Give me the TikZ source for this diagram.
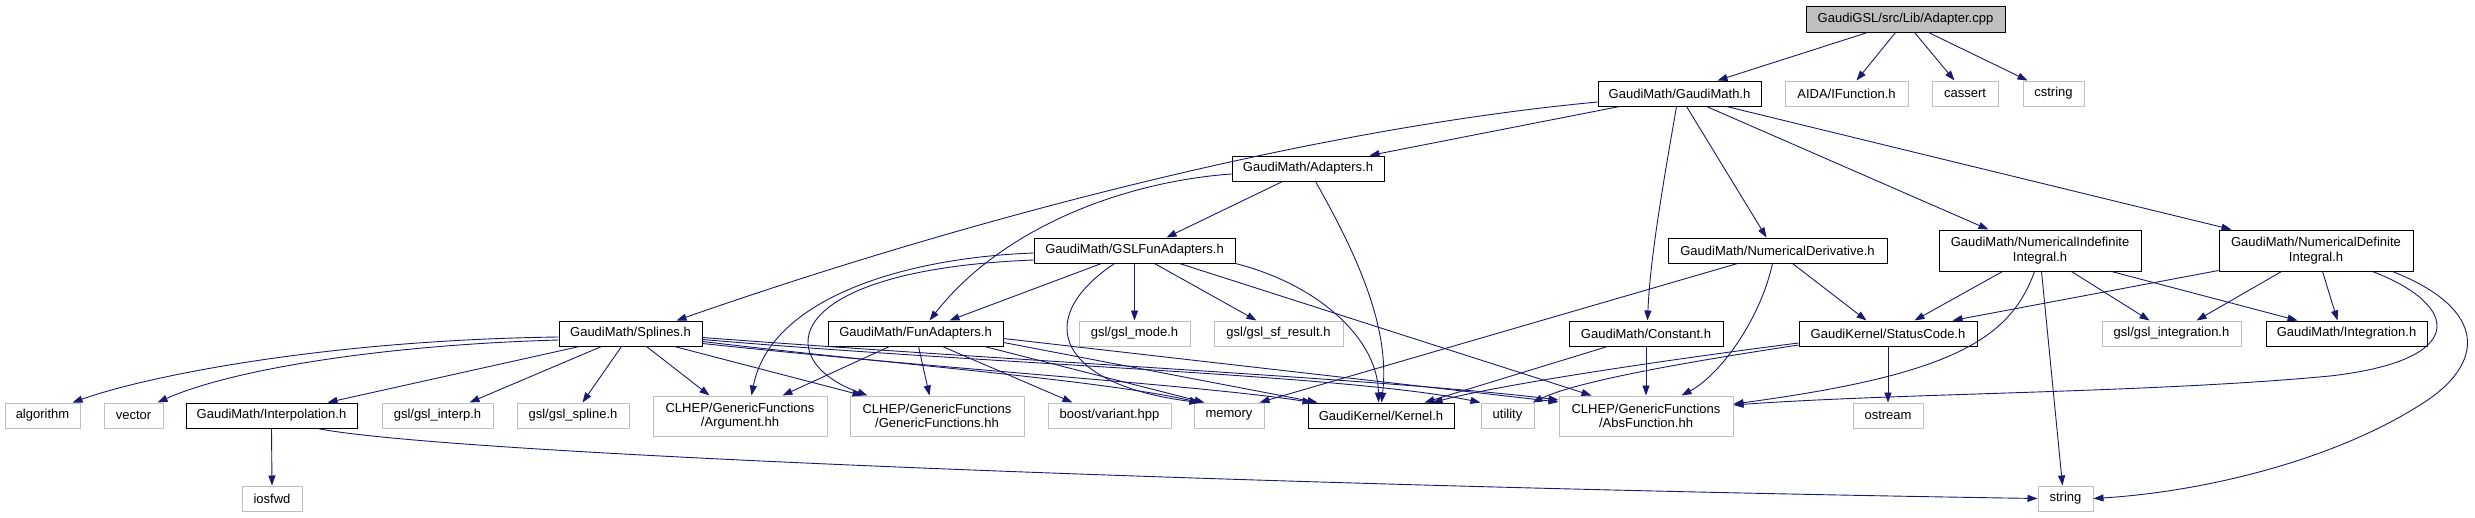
\documentclass[tikz,border=0pt]{standalone}
\usepackage{fontspec}
\setmainfont{Liberation Sans}
\usetikzlibrary{arrows.meta}
\definecolor{edgec}{HTML}{191970}
\definecolor{grayb}{HTML}{BFBFBF}
\tikzset{
  box/.style={rectangle, inner sep=0pt, font=\fontsize{13}{14.5}\selectfont, align=center, line width=1pt},
  hdr/.style={box, draw=black},
  ext/.style={box, draw=grayb},
  rootbox/.style={box, draw=black, fill=grayb},
  dep/.style={draw=edgec, line width=0.9pt, -{Triangle[length=10pt,width=7pt]}},
}
\begin{document}
\begin{tikzpicture}[x=1pt,y=-1pt]
\useasboundingbox (0,0) rectangle (2475,517);
% nodes
\node[rootbox, minimum width=199pt, minimum height=26pt] (root) at (1905.5,19) {GaudiGSL/src/Lib/Adapter.cpp};
\node[hdr, minimum width=163pt, minimum height=25pt] (gm) at (1679.5,93.5) {GaudiMath/GaudiMath.h};
\node[ext, minimum width=123pt, minimum height=25pt] (aida) at (1846.5,93.5) {AIDA/IFunction.h};
\node[ext, minimum width=66pt, minimum height=25pt] (cassert) at (1965,93.5) {cassert};
\node[ext, minimum width=61pt, minimum height=25pt] (cstring) at (2053.5,93.5) {cstring};
\node[hdr, minimum width=152pt, minimum height=25pt] (adapters) at (1308,168.5) {GaudiMath/Adapters.h};
\node[hdr, minimum width=201pt, minimum height=25pt] (gslfun) at (1134.5,250.5) {GaudiMath/GSLFunAdapters.h};
\node[hdr, minimum width=219pt, minimum height=25pt] (numder) at (1777.5,250.5) {GaudiMath/NumericalDerivative.h};
\node[hdr, minimum width=202pt, minimum height=41pt] (numindef) at (2040,250.5) {GaudiMath/NumericalIndefinite\\Integral.h};
\node[hdr, minimum width=194pt, minimum height=41pt] (numdef) at (2316,250.5) {GaudiMath/NumericalDefinite\\Integral.h};
\node[hdr, minimum width=143pt, minimum height=25pt] (splines) at (630.5,333.5) {GaudiMath/Splines.h};
\node[hdr, minimum width=175pt, minimum height=25pt] (funad) at (915.5,333.5) {GaudiMath/FunAdapters.h};
\node[ext, minimum width=111pt, minimum height=25pt] (gslmode) at (1134.5,333.5) {gsl/gsl\_mode.h};
\node[ext, minimum width=129pt, minimum height=25pt] (gslsf) at (1278.5,333.5) {gsl/gsl\_sf\_result.h};
\node[hdr, minimum width=154pt, minimum height=25pt] (constant) at (1646,333.5) {GaudiMath/Constant.h};
\node[hdr, minimum width=178pt, minimum height=25pt] (status) at (1888,333.5) {GaudiKernel/StatusCode.h};
\node[ext, minimum width=139pt, minimum height=25pt] (gslint) at (2171.5,333.5) {gsl/gsl\_integration.h};
\node[hdr, minimum width=161pt, minimum height=25pt] (integ) at (2346.5,333.5) {GaudiMath/Integration.h};
\node[ext, minimum width=75pt, minimum height=25pt] (algorithm) at (42.5,415.5) {algorithm};
\node[ext, minimum width=59pt, minimum height=25pt] (vector) at (133.5,415.5) {vector};
\node[hdr, minimum width=171pt, minimum height=25pt] (interp) at (271.5,415.5) {GaudiMath/Interpolation.h};
\node[ext, minimum width=111pt, minimum height=25pt] (gslinterp) at (437.5,415.5) {gsl/gsl\_interp.h};
\node[ext, minimum width=112pt, minimum height=25pt] (gslspline) at (573,415.5) {gsl/gsl\_spline.h};
\node[ext, minimum width=174pt, minimum height=40pt] (argument) at (740,416) {CLHEP/GenericFunctions\\/Argument.hh};
\node[ext, minimum width=174pt, minimum height=40pt] (genfun) at (937,416) {CLHEP/GenericFunctions\\/GenericFunctions.hh};
\node[ext, minimum width=123pt, minimum height=25pt] (boost) at (1109.5,415.5) {boost/variant.hpp};
\node[ext, minimum width=70pt, minimum height=25pt] (memory) at (1229,415.5) {memory};
\node[hdr, minimum width=146pt, minimum height=25pt] (kernel) at (1381,415.5) {GaudiKernel/Kernel.h};
\node[ext, minimum width=53pt, minimum height=25pt] (utility) at (1507.5,415.5) {utility};
\node[ext, minimum width=174pt, minimum height=40pt] (absfun) at (1646,416) {CLHEP/GenericFunctions\\/AbsFunction.hh};
\node[ext, minimum width=70pt, minimum height=25pt] (ostream) at (1888,415.5) {ostream};
\node[ext, minimum width=60pt, minimum height=25pt] (iosfwd) at (272,498.5) {iosfwd};
\node[ext, minimum width=55pt, minimum height=25pt] (string) at (2065.5,498.5) {string};
% edges from root
\draw[dep] ([xshift=62pt]root.south west) -- ([xshift=120pt]gm.north west);
\draw[dep] ([xshift=90pt]root.south west) -- ([xshift=72pt]aida.north west);
\draw[dep] ([xshift=109pt]root.south west) -- ([xshift=23pt]cassert.north west);
\draw[dep] ([xshift=123pt]root.south west) -- ([xshift=5pt]cstring.north west);
% GaudiMath.h
\draw[dep] ([yshift=-8.5pt]gm.west) .. controls (1300,130) and (950,225) .. ([xshift=118pt]splines.north west);
\draw[dep] ([xshift=22pt]gm.south west) -- ([xshift=138pt]adapters.north west);
\draw[dep] ([xshift=79pt]gm.south west) .. controls (1662,190) and (1650,260) .. ([xshift=79pt]constant.north west);
\draw[dep] ([xshift=89pt]gm.south west) -- ([xshift=99pt]numder.north west);
\draw[dep] ([xshift=109pt]gm.south west) -- ([xshift=50pt]numindef.north west);
\draw[dep] ([xshift=129pt]gm.south west) -- ([xshift=13pt]numdef.north west);
% Adapters.h
\draw[dep] ([xshift=51pt]adapters.south west) -- ([xshift=133pt]gslfun.north west);
\draw[dep] ([yshift=-5.5pt]adapters.west) .. controls (1120,182) and (1000,230) .. ([xshift=102pt]funad.north west);
\draw[dep] ([xshift=84pt]adapters.south west) .. controls (1360,260) and (1390,330) .. ([xshift=74pt]kernel.north west);
% GSLFunAdapters.h
\draw[dep] ([xshift=68pt]gslfun.south west) -- ([xshift=122pt]funad.north west);
\draw[dep] ([yshift=-2.5pt]gslfun.west) .. controls (900,258) and (770,300) .. ([xshift=99pt]argument.north west);
\draw[dep] ([yshift=-9.5pt]gslfun.west) .. controls (780,270) and (770,360) .. ([xshift=18pt]genfun.north west);
\draw[dep] ([xshift=81pt]gslfun.south west) .. controls (1030,320) and (1060,385) .. ([xshift=6pt]memory.north west);
\draw[dep] (gslfun.south) -- (gslmode.north);
\draw[dep] ([xshift=121pt]gslfun.south west) -- ([xshift=43pt]gslsf.north west);
\draw[dep] (gslfun.south east) .. controls (1320,285) and (1378,340) .. ([xshift=71pt]kernel.north west);
\draw[dep] ([xshift=146pt]gslfun.south west) -- ([xshift=33pt]absfun.north west);
% Splines.h
\draw[dep] ([yshift=-3.5pt]splines.west) .. controls (330,340) and (150,375) .. ([xshift=68pt]algorithm.north west);
\draw[dep] ([yshift=-6.5pt]splines.west) .. controls (380,345) and (230,370) .. ([xshift=54pt]vector.north west);
\draw[dep] ([xshift=21pt]splines.south west) -- ([xshift=142pt]interp.north west);
\draw[dep] ([xshift=43pt]splines.south west) -- ([xshift=88pt]gslinterp.north west);
\draw[dep] ([xshift=63pt]splines.south west) -- ([xshift=66pt]gslspline.north west);
\draw[dep] ([xshift=88pt]splines.south west) -- ([xshift=57pt]argument.north west);
\draw[dep] ([xshift=116pt]splines.south west) -- ([xshift=13pt]genfun.north west);
\draw[dep] ([yshift=-8pt]splines.east) .. controls (900,365) and (1100,380) .. ([xshift=6pt]memory.north west);
\draw[dep] ([yshift=-10pt]splines.east) .. controls (950,370) and (1200,385) .. ([xshift=5pt]kernel.north west);
\draw[dep] ([yshift=-6pt]splines.east) .. controls (1000,365) and (1350,375) .. (utility.north west);
\draw[dep] ([yshift=-4pt]splines.east) .. controls (1000,360) and (1400,380) .. ([yshift=16pt]absfun.west);
% FunAdapters.h
\draw[dep] ([xshift=62pt]funad.south west) -- ([xshift=130pt]argument.north west);
\draw[dep] ([xshift=91pt]funad.south west) -- ([xshift=80pt]genfun.north west);
\draw[dep] ([xshift=115pt]funad.south west) -- ([xshift=25pt]boost.north west);
\draw[dep] ([xshift=157pt]funad.south west) -- ([xshift=11pt]memory.north west);
\draw[dep] ([yshift=-9pt]funad.east) -- ([xshift=10pt]kernel.north west);
\draw[dep] ([yshift=-5pt]funad.east) -- ([yshift=14pt]absfun.west);
% NumericalDerivative.h
\draw[dep] ([xshift=70pt]numder.south west) -- ([xshift=66pt]memory.north west);
\draw[dep] ([xshift=105pt]numder.south west) .. controls (1760,320) and (1720,375) .. ([xshift=123pt]absfun.north west);
\draw[dep] ([xshift=125pt]numder.south west) -- ([xshift=68pt]status.north west);
% Constant.h
\draw[dep] ([xshift=39pt]constant.south west) -- ([xshift=117pt]kernel.north west);
\draw[dep] (constant.south) -- (absfun.north);
% StatusCode.h
\draw[dep] ([yshift=-9.5pt]status.west) .. controls (1650,362) and (1500,385) .. ([xshift=125pt]kernel.north west);
\draw[dep] ([yshift=-11.5pt]status.west) .. controls (1700,360) and (1580,380) .. ([xshift=52pt]utility.north west);
\draw[dep] (status.south) -- (ostream.north);
% NumericalIndefiniteIntegral.h
\draw[dep] ([xshift=64pt]numindef.south west) -- ([xshift=116pt]status.north west);
\draw[dep] ([xshift=96pt]numindef.south west) .. controls (2010,340) and (1950,375) .. ([yshift=12pt]absfun.east);
\draw[dep] ([xshift=103pt]numindef.south west) -- ([xshift=25pt]string.north west);
\draw[dep] ([xshift=133pt]numindef.south west) -- ([xshift=48pt]gslint.north west);
\draw[dep] ([xshift=173pt]numindef.south west) -- ([xshift=32pt]integ.north west);
% NumericalDefiniteIntegral.h
\draw[dep] ([yshift=1pt]numdef.south west) -- ([xshift=154pt]status.north west);
\draw[dep] ([xshift=63pt]numdef.south west) -- ([xshift=95pt]gslint.north west);
\draw[dep] ([xshift=104pt]numdef.south west) -- ([xshift=72pt]integ.north west);
\draw[dep] ([xshift=154pt]numdef.south west) .. controls (2460,305) and (2470,360) .. (2330,376) .. controls (2150,393) and (1900,393) .. ([yshift=11pt]absfun.east);
\draw[dep] ([xshift=174pt]numdef.south west) .. controls (2490,310) and (2485,365) .. (2420,405) .. controls (2330,462) and (2200,492) .. (string.east);
% Interpolation.h
\draw[dep] (interp.south) -- (iosfwd.north);
\draw[dep] ([xshift=132pt]interp.south west) .. controls (450,455) and (1300,487) .. (string.west);
\end{tikzpicture}
\end{document}
